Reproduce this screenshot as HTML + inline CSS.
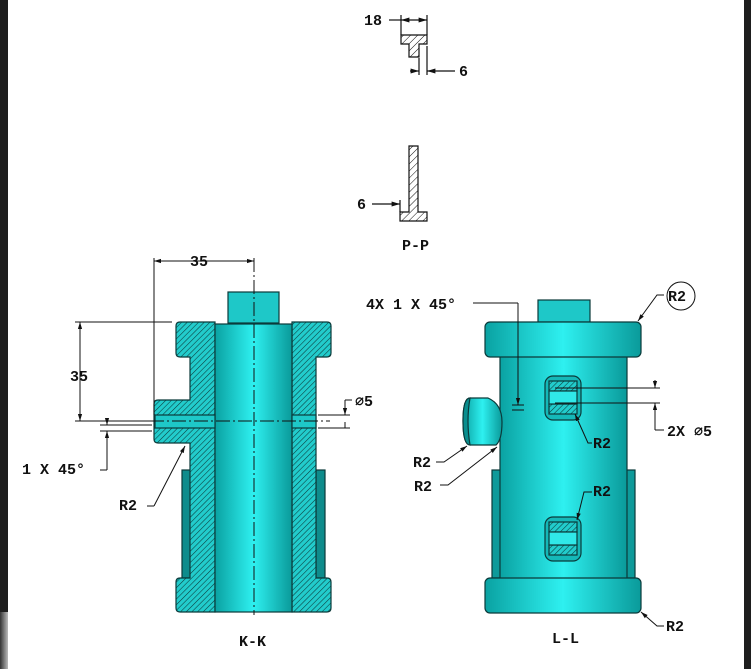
<!DOCTYPE html>
<html><head><style>
html,body{margin:0;padding:0;background:#fff;width:751px;height:669px;overflow:hidden}
svg{display:block}
text{font-family:"Liberation Mono",monospace;font-weight:bold;font-size:15px;fill:#111}
</style></head><body>
<svg width="751" height="669" viewBox="0 0 751 669" xmlns="http://www.w3.org/2000/svg">
<defs>
<pattern id="h" patternUnits="userSpaceOnUse" width="4" height="4" patternTransform="rotate(45)">
<rect width="4" height="4" fill="#22cccc"/><line x1="0" y1="0" x2="0" y2="4" stroke="#0b3a3a" stroke-width="1.1"/>
</pattern>
<pattern id="hw" patternUnits="userSpaceOnUse" width="5" height="5" patternTransform="rotate(45)">
<rect width="5" height="5" fill="#fff"/><line x1="0" y1="0" x2="0" y2="5" stroke="#111" stroke-width="1"/>
</pattern>
<linearGradient id="g" x1="0" x2="1" y1="0" y2="0">
<stop offset="0" stop-color="#0aa2a2"/><stop offset="0.5" stop-color="#2ef0f0"/><stop offset="1" stop-color="#0a9a9a"/>
</linearGradient>
<linearGradient id="gb" x1="0" x2="1">
<stop offset="0" stop-color="#333"/><stop offset="1" stop-color="#bbb"/>
</linearGradient>
<marker id="a" viewBox="0 0 10 10" refX="10" refY="5" markerWidth="7" markerHeight="7" orient="auto-start-reverse"><path d="M0,2 L10,5 L0,8 Z" fill="#111"/></marker>
</defs>
<rect x="0" y="0" width="8" height="669" fill="#1e1e1e"/>
<rect x="744" y="0" width="7" height="669" fill="#1e1e1e"/>
<rect x="0" y="612" width="8" height="57" fill="url(#gb)"/>

<g stroke="#111" stroke-width="1.2" fill="none">
<path d="M401,35 H427 V44 H419 V57 H409 V44 H401 Z" fill="url(#hw)"/>
<line x1="401" y1="15" x2="401" y2="35"/><line x1="427" y1="15" x2="427" y2="35"/>
<line x1="389" y1="20" x2="401" y2="20"/>
<line x1="401" y1="20" x2="427" y2="20" marker-start="url(#a)" marker-end="url(#a)"/>
<line x1="419" y1="58" x2="419" y2="75"/><line x1="427" y1="46" x2="427" y2="75"/>
<line x1="410" y1="71" x2="419" y2="71" marker-end="url(#a)"/><line x1="455" y1="71" x2="427" y2="71" marker-end="url(#a)"/>
<path d="M409,146 H418 V212 H427 V221 H400 V212 H409 Z" fill="url(#hw)"/>
<line x1="400" y1="200" x2="400" y2="212"/>
<line x1="372" y1="204" x2="400" y2="204" marker-end="url(#a)"/>
</g>
<text x="364" y="25">18</text>
<text x="459" y="76">6</text>
<text x="357" y="209">6</text>
<text x="402" y="250">P-P</text>

<g stroke="#0b3a3a" stroke-width="1.2">
<rect x="182" y="470" width="9" height="108" fill="#0e8c8c"/>
<rect x="316" y="470" width="9" height="108" fill="#0e8c8c"/>
<rect x="228" y="292" width="51" height="31" fill="#1ec8c8"/>
<path d="M180,322 H215 V612 H180 Q176,612 176,608 V582 Q176,578 180,578 H190 V443 H158 Q154,443 154,439 V404 Q154,400 158,400 H190 V357 H180 Q176,357 176,353 V326 Q176,322 180,322 Z" fill="url(#h)"/>
<path d="M292,322 H327 Q331,322 331,326 V353 Q331,357 327,357 H316 V578 H327 Q331,578 331,582 V608 Q331,612 327,612 H292 Z" fill="url(#h)"/>
<rect x="215" y="324" width="77" height="288" fill="url(#g)"/>
<rect x="155" y="415" width="60" height="13" fill="#1ec8c8"/>
<rect x="292" y="415" width="24" height="13" fill="#1ec8c8"/>
</g>
<g stroke="#111" stroke-width="1" fill="none">
<line x1="254" y1="258" x2="254" y2="615" stroke-dasharray="14,3,2,3"/>
<line x1="150" y1="421" x2="330" y2="421" stroke-dasharray="14,3,2,3"/>
<line x1="154" y1="258" x2="154" y2="415"/>
<line x1="154" y1="261" x2="254" y2="261" marker-start="url(#a)" marker-end="url(#a)"/>
<line x1="75" y1="322" x2="172" y2="322"/><line x1="75" y1="421" x2="150" y2="421"/>
<line x1="80" y1="322" x2="80" y2="421" marker-start="url(#a)" marker-end="url(#a)"/>
<line x1="100" y1="425" x2="152" y2="425"/><line x1="100" y1="431" x2="152" y2="431"/>
<line x1="107" y1="418" x2="107" y2="425" marker-end="url(#a)"/>
<line x1="107" y1="470" x2="107" y2="431" marker-end="url(#a)"/><line x1="100" y1="470" x2="107" y2="470"/>
<line x1="147" y1="506" x2="154" y2="506"/><path d="M154,506 L185,446" marker-end="url(#a)"/>
<line x1="318" y1="415" x2="350" y2="415"/><line x1="318" y1="428" x2="350" y2="428"/>
<line x1="345" y1="400" x2="345" y2="415" marker-end="url(#a)"/><line x1="345" y1="428" x2="345" y2="422"/><line x1="345" y1="400" x2="352" y2="400"/>
</g>
<text x="190" y="266">35</text>
<text x="70" y="381">35</text>
<text x="22" y="474">1 X 45°</text>
<text x="119" y="510">R2</text>
<text x="355" y="406">∅5</text>
<text x="239" y="646">K-K</text>

<g stroke="#0b3a3a" stroke-width="1.2">
<rect x="492" y="470" width="9" height="108" fill="#0e9a9a"/>
<rect x="626" y="470" width="9" height="108" fill="#0e9a9a"/>
<rect x="538" y="300" width="52" height="22" fill="#1ec8c8"/>
<rect x="500" y="355" width="127" height="225" fill="url(#g)"/>
<rect x="485" y="322" width="156" height="35" rx="5" fill="url(#g)"/>
<rect x="485" y="578" width="156" height="35" rx="5" fill="url(#g)"/>
<path d="M470,398 H488 Q502,404 502,422 Q502,440 496,445 H470 Q463,445 463,421 Q463,398 470,398 Z" fill="url(#g)"/>
<path d="M470,398 Q463,398 463,421 Q463,445 470,445 Q466,421 470,398 Z" fill="#0a8e8e"/>
<rect x="545" y="376" width="36" height="44" rx="8" fill="#15b8b8"/>
<rect x="549" y="381" width="28" height="10" fill="url(#h)"/>
<rect x="549" y="404" width="28" height="10" fill="url(#h)"/>
<rect x="549" y="391" width="28" height="13" fill="#30e8e8"/>
<rect x="545" y="517" width="36" height="44" rx="8" fill="#15b8b8"/>
<rect x="549" y="522" width="28" height="10" fill="url(#h)"/>
<rect x="549" y="545" width="28" height="10" fill="url(#h)"/>
<rect x="549" y="532" width="28" height="13" fill="#30e8e8"/>
</g>
<g stroke="#111" stroke-width="1" fill="none">
<line x1="473" y1="303" x2="518" y2="303"/><line x1="518" y1="303" x2="518" y2="405" marker-end="url(#a)"/>
<line x1="512" y1="405" x2="524" y2="405"/><line x1="512" y1="410" x2="524" y2="410"/>
<line x1="555" y1="388" x2="660" y2="388"/><line x1="555" y1="403" x2="660" y2="403"/>
<line x1="655" y1="430" x2="655" y2="403" marker-end="url(#a)"/><line x1="655" y1="430" x2="664" y2="430"/>
<line x1="655" y1="380" x2="655" y2="388" marker-end="url(#a)"/>
<path d="M592,443 H588 L575,414" marker-end="url(#a)"/>
<path d="M592,492 H584 L577,520" marker-end="url(#a)"/>
<path d="M664,295 H657 L638,321" marker-end="url(#a)"/>
<circle cx="681" cy="296" r="14"/>
<path d="M664,626 H657 L641,612" marker-end="url(#a)"/>
<path d="M436,462 H444 L467,446" marker-end="url(#a)"/>
<path d="M440,485 H448 L497,447" marker-end="url(#a)"/>
</g>
<text x="366" y="309">4X 1 X 45°</text>
<text x="668" y="301">R2</text>
<text x="667" y="436">2X ∅5</text>
<text x="593" y="448">R2</text>
<text x="593" y="496">R2</text>
<text x="413" y="467">R2</text>
<text x="414" y="491">R2</text>
<text x="666" y="631">R2</text>
<text x="552" y="643">L-L</text>
</svg>
</body></html>
